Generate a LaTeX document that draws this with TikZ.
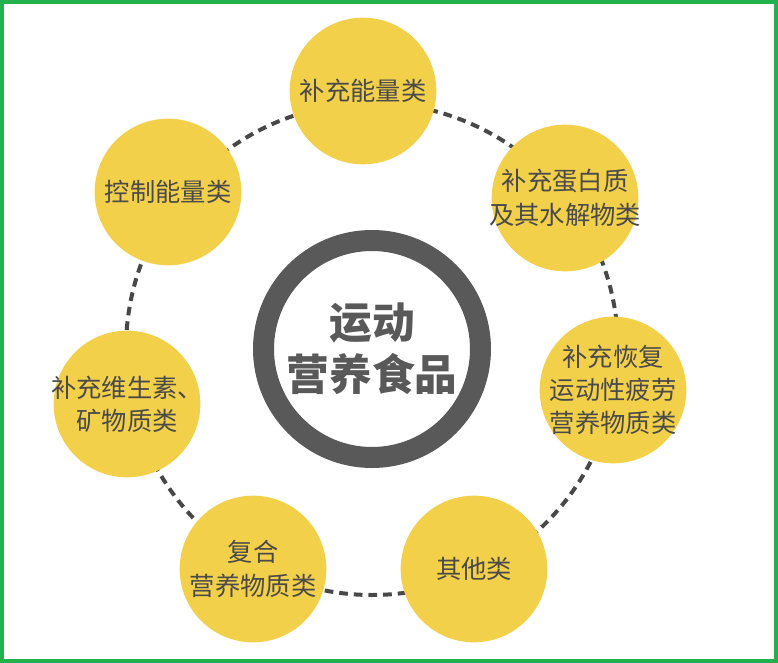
\documentclass[tikz,border=0pt]{standalone}
\usepackage{fontspec}
\setmainfont{Noto Sans CJK SC}
\usepackage{xcolor}
\usepackage{tikz}
\usetikzlibrary{positioning}

\definecolor{framegreen}{RGB}{34,177,76}
\definecolor{sunyellow}{RGB}{243,208,74}
\definecolor{ringgrey}{RGB}{89,89,89}
\definecolor{dashgrey}{RGB}{72,72,72}
\definecolor{labelgrey}{RGB}{74,74,74}

\tikzset{
  kind/.style={circle,fill=sunyellow,inner sep=-12pt,minimum size=110pt,align=center,
    text=labelgrey,font=\fontsize{19pt}{25pt}\selectfont},
  ringdash/.style={dashgrey,line width=3pt,dash pattern=on 6.5pt off 4.5pt},
}

\begin{document}
\begin{tikzpicture}[x=0.75pt,y=0.75pt,yscale=-1,xscale=1]
\useasboundingbox (0,0) rectangle (778,663);

%Shape: Frame
\draw [color=framegreen,line width=3pt] (2,2) rectangle (776,661);

%Shape: Ring with title
\node (core) [circle,draw=ringgrey,line width=15.75pt,minimum size=162.75pt,inner sep=0pt,
  align=center,text=ringgrey,font=\bfseries\fontsize{32pt}{39pt}\selectfont] at (372,349) {运动\\营养食品};

%Shape: Dashed orbit
\draw [ringdash] (core.center) circle [radius=246];

% Text Node
\node (energy) [kind] at (363,91) {补充能量类};
% Text Node
\node (protein) [kind] at (565,198) {补充蛋白质\\及其水解物类};
% Text Node
\node (fatigue) [kind] at (613,390) {补充恢复\\运动性疲劳\\营养物质类};
% Text Node
\node (other) [kind] at (474,569) {其他类};
% Text Node
\node (compound) [kind] at (253,569) {复合\\营养物质类};
% Text Node
\node (vitamin) [kind] at (127,404) {补充维生素、\\矿物质类};
% Text Node
\node (control) [kind] at (168,192) {控制能量类};

\end{tikzpicture}
\end{document}
